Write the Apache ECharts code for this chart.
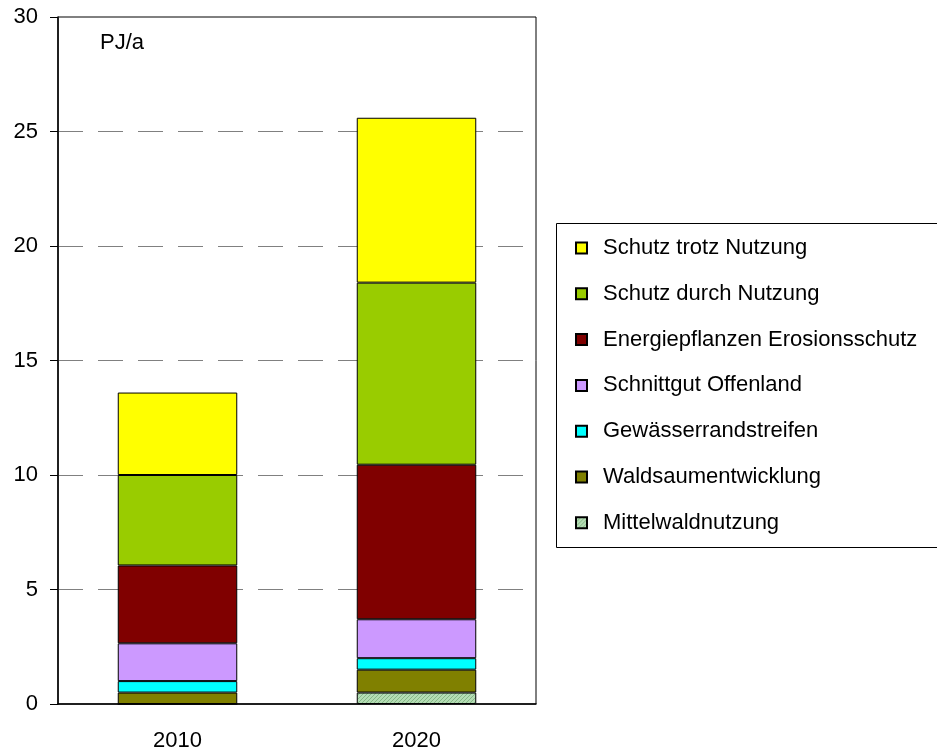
<!DOCTYPE html>
<html>
<head>
<meta charset="utf-8">
<script src="https://cdn.jsdelivr.net/npm/echarts@6/dist/echarts.min.js"></script>
<style>
  html, body { margin: 0; padding: 0; background: #fff; }
  #chart { width: 937px; height: 749px; }
</style>
</head>
<body>
<div id="chart"></div>
<script>
// Energy potential in PJ/a by measure, stacked per year
const categories = ['2010', '2020'];
const mittelwald = [0, 0.5];
const waldsaum = [0.5, 1.0];
const gewaesser = [0.5, 0.5];
const schnittgut = [1.65, 1.7];
const energiepflanzen = [3.4, 6.75];
const schutzDurch = [3.95, 7.95];
const schutzTrotz = [3.6, 7.2];
const yTicks = [0, 5, 10, 15, 20, 25, 30];

// Hatched fill for the coppice series
function hatchPattern() {
  const c = document.createElement('canvas');
  c.width = 4; c.height = 4;
  const g = c.getContext('2d');
  g.fillStyle = '#b4dcb4';
  g.fillRect(0, 0, 4, 4);
  g.fillStyle = '#86b886';
  g.fillRect(0, 0, 1, 1);
  g.fillRect(2, 2, 1, 1);
  g.fillRect(1, 3, 1, 1);
  g.fillRect(3, 1, 1, 1);
  return { image: c, repeat: 'repeat' };
}

const FONT = 'Liberation Sans, Arial, sans-serif';

function makeSeries(name, data, color) {
  return {
    name: name,
    type: 'bar',
    stack: 'total',
    data: data,
    barWidth: '50%',
    itemStyle: { color: color, borderColor: '#000', borderWidth: 1 },
    emphasis: { disabled: true }
  };
}

const series = [
  makeSeries('Mittelwaldnutzung', mittelwald, hatchPattern()),
  makeSeries('Waldsaumentwicklung', waldsaum, '#808000'),
  makeSeries('Gewässerrandstreifen', gewaesser, '#00ffff'),
  makeSeries('Schnittgut Offenland', schnittgut, '#cc99ff'),
  makeSeries('Energiepflanzen Erosionsschutz', energiepflanzen, '#800000'),
  makeSeries('Schutz durch Nutzung', schutzDurch, '#99cc00'),
  makeSeries('Schutz trotz Nutzung', schutzTrotz, '#ffff00')
];

const chart = echarts.init(document.getElementById('chart'), null, { renderer: 'canvas' });
chart.setOption({
  animation: false,
  backgroundColor: '#fff',
  textStyle: { fontFamily: FONT },
  grid: {
    left: 58, right: 401, top: 17, bottom: 45,
    outerBoundsMode: 'none',
    containLabel: false,
    show: true, borderColor: '#000', borderWidth: 1, backgroundColor: 'transparent'
  },
  xAxis: {
    type: 'category',
    data: categories,
    axisLine: { lineStyle: { color: '#000', width: 1.5 } },
    axisTick: { show: false },
    axisLabel: { color: '#000', fontSize: 22, fontFamily: FONT, margin: 26 }
  },
  yAxis: {
    type: 'value',
    min: yTicks[0],
    max: yTicks[yTicks.length - 1],
    interval: 5,
    axisLine: { show: true, lineStyle: { color: '#000', width: 1.5 } },
    axisTick: { show: true, length: 8, lineStyle: { color: '#000' } },
    axisLabel: { color: '#000', fontSize: 22, fontFamily: FONT, margin: 20 },
    splitLine: { show: true, lineStyle: { color: '#808080', width: 1, type: [25, 15] } }
  },
  legend: {
    orient: 'vertical',
    left: 575,
    top: 237,
    padding: 0,
    icon: 'rect',
    itemWidth: 11,
    itemHeight: 11,
    itemGap: 23.8,
    data: series.map(s => s.name).reverse(),
    textStyle: { color: '#000', fontSize: 22, fontFamily: FONT, lineHeight: 22, padding: [0, 0, 0, 11] }
  },
  graphic: [
    {
      type: 'rect',
      left: 556, top: 223,
      shape: { width: 400, height: 324 },
      style: { fill: 'transparent', stroke: '#000', lineWidth: 1 },
      z: 0
    },
    {
      type: 'text',
      left: 100, top: 32,
      style: { text: 'PJ/a', fontSize: 22, fontFamily: FONT, fill: '#000' }
    }
  ],
  series: series
});
</script>
</body>
</html>
